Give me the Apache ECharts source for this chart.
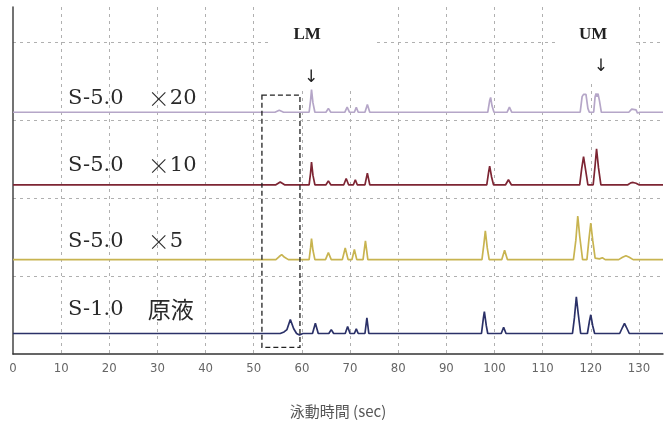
<!DOCTYPE html>
<html><head><meta charset="utf-8">
<script src="https://cdn.jsdelivr.net/npm/echarts@6/dist/echarts.min.js"></script>
<style>html,body{margin:0;padding:0;background:#fff}#c{width:669px;height:424px}</style>
</head><body><div id="c"></div><script>
// ---- data ----
const xMin = 0, xMax = 135, xStep = 10;
const traceMain = ['S-5.0', 'S-5.0', 'S-5.0', 'S-1.0'];
const traceMult = ['×', '×', '×', ''];
const traceSub = ['20', '10', '5', '原液'];
const baselines = [3.10, 2.17, 1.21, 0.263];
// [time (sec), signal above baseline]
const traceX20 = [[0,0],[54.4,0],[55.3,0.025],[56.2,0],[61.5,0],[61.8,0.15],[62.0,0.29],[62.3,0.12],[62.7,0],
  [65.0,0],[65.5,0.05],[66.0,0],[68.9,0],[69.4,0.065],[69.9,0],[70.9,0],[71.3,0.065],[71.7,0],[73.1,0],[73.6,0.1],[74.1,0],
  [98.6,0],[99.0,0.15],[99.2,0.19],[99.5,0.08],[99.9,0],[102.6,0],[103.1,0.065],[103.6,0],
  [117.8,0],[118.2,0.2],[118.5,0.23],[119.0,0.23],[119.4,0.05],[119.7,0],
  [120.6,0],[120.9,0.2],[121.1,0.24],[121.3,0.2],[121.5,0.24],[121.8,0.15],[122.2,0],
  [127.9,0],[128.5,0.04],[128.9,0.05],[129.4,0.03],[129.7,-0.01],[130.2,0],[135,0]];
const traceX10 = [[0,0],[54.6,0],[55.5,0.035],[56.4,0],[61.5,0],[61.8,0.15],[62.0,0.29],[62.3,0.12],[62.7,0],
  [65.0,0],[65.5,0.05],[66.0,0],[68.7,0],[69.2,0.08],[69.7,0],[70.7,0],[71.1,0.065],[71.5,0],[73.1,0],[73.6,0.15],[74.1,0],
  [98.4,0],[98.8,0.17],[99.0,0.24],[99.4,0.1],[99.8,0],[102.3,0],[102.9,0.065],[103.5,0],
  [117.7,0],[118.1,0.2],[118.5,0.36],[118.9,0.2],[119.4,0],
  [120.5,0],[120.9,0.25],[121.2,0.46],[121.6,0.22],[122.1,0],
  [127.7,0],[128.3,0.025],[128.8,0.03],[129.4,0.02],[130.0,0],[135,0]];
const traceX5 = [[0,0],[54.6,0],[55.3,0.04],[55.8,0.065],[56.4,0.03],[57.2,0],[61.5,0],[61.8,0.15],[62.0,0.27],[62.3,0.12],[62.7,0],
  [64.9,0],[65.5,0.09],[66.1,0],[68.4,0],[69.0,0.15],[69.6,0],[70.4,0],[70.9,0.13],[71.4,0],[72.7,0],[73.2,0.24],[73.7,0],
  [86.7,0],[87.1,0.015],[87.5,0],[97.4,0],[97.8,0.2],[98.1,0.37],[98.5,0.15],[98.9,0],[101.5,0],[102.1,0.12],[102.7,0],
  [116.4,0],[116.9,0.25],[117.3,0.56],[117.7,0.3],[118.3,0],[119.2,0],[119.6,0.25],[120.0,0.47],[120.4,0.25],[120.9,0.02],
  [121.8,0.01],[122.4,0.025],[123.0,0],[125.8,0],[126.6,0.03],[127.3,0.05],[128.0,0.03],[128.8,0],[135,0]];
const traceNeat = [[0,0],[55.5,0],[56.3,0.02],[56.9,0.05],[57.6,0.18],[58.3,0.06],[58.9,0],[59.5,-0.02],[60.2,0],
  [62.2,0],[62.8,0.13],[63.4,0],[65.6,0],[66.1,0.05],[66.6,0],[69.0,0],[69.5,0.09],[70.0,0],[70.9,0],[71.3,0.06],[71.7,0],
  [73.1,0],[73.5,0.2],[73.9,0],[97.3,0],[97.7,0.2],[97.9,0.28],[98.3,0.1],[98.6,0],[101.4,0],[101.9,0.08],[102.4,0],
  [116.2,0],[116.6,0.2],[117.0,0.47],[117.4,0.25],[117.9,0],[119.3,0],[119.7,0.15],[120.0,0.24],[120.4,0.1],[120.8,0],
  [126.0,0],[126.6,0.08],[127.0,0.13],[127.4,0.08],[128.0,0],[135,0]];
const traces = [traceX20, traceX10, traceX5, traceNeat];
const markerNames = ['LM', 'UM'];
const markerTextAt = [[61.1, 4.10], [120.5, 4.09]];
const markerArrowAt = [[61.9, 3.55], [122.1, 3.68]];
const markerBox = [[53.4, 3.41, 75.6, 4.45], [113.0, 3.47, 129.4, 4.45]];
const regionBox = [51.7, 0.084, 59.6, 3.32];
const labelAt = [[11.4, 3.28], [11.4, 2.42], [11.4, 1.44], [11.4, 0.57]];
const subLabelX = 28.0;
const colors = ['#b5a6c8', '#7d2533', '#c8b450', '#2b3168'];

const series = traces.map((t, i) => ({
  type: 'line', data: t.map(p => [p[0], p[1] + baselines[i]]),
  showSymbol: false, symbol: 'none', smooth: false, z: 2,
  lineStyle: { color: colors[i], width: 1.7 }, animation: false
}));

const option = {
  animation: false,
  grid: { left: 13, right: 6, top: 7, bottom: 69 },
  xAxis: {
    type: 'value', min: xMin, max: xMax, interval: xStep,
    name: '泳動時間 (sec)', nameLocation: 'middle', nameGap: 50,
    nameTextStyle: { color: '#555', fontSize: 15, fontFamily: 'Noto Sans CJK JP' },
    axisLine: { show: true, lineStyle: { color: '#333', width: 1.5 } },
    axisTick: { show: false },
    axisLabel: { color: '#666', fontSize: 13, margin: 8, showMaxLabel: false,
      fontFamily: "'Liberation Sans Narrow','DejaVu Sans Condensed',sans-serif" },
    splitLine: { show: true, showMinLine: false, showMaxLine: false,
      lineStyle: { color: '#b0b0b0', type: [3, 4], width: 1 } }
  },
  yAxis: {
    type: 'value', min: 0, max: 4.45, interval: 1,
    axisLine: { show: true, lineStyle: { color: '#444', width: 1.5 } },
    axisTick: { show: false }, axisLabel: { show: false },
    splitLine: { show: true, showMinLine: false, showMaxLine: false,
      lineStyle: { color: '#b0b0b0', type: [3, 4], width: 1 } }
  },
  series
};
const chart = echarts.init(document.getElementById('c'));
chart.setOption(option);
const P = (x, y) => chart.convertToPixel({ gridIndex: 0 }, [x, y]);
function rectOf(b, style, z) {
  const a = P(b[0], b[1]), c = P(b[2], b[3]);
  return { type: 'rect', z, shape: { x: Math.min(a[0], c[0]), y: Math.min(a[1], c[1]),
    width: Math.abs(c[0] - a[0]), height: Math.abs(c[1] - a[1]) }, style };
}
const g = [];
markerBox.forEach(b => g.push(rectOf(b, { fill: '#fff', stroke: null }, 1)));
g.push(rectOf(regionBox, { fill: null, stroke: '#222', lineWidth: 1.3, lineDash: [5, 3] }, 3));
markerNames.forEach((n, i) => {
  const p = P(markerTextAt[i][0], markerTextAt[i][1]);
  g.push({ type: 'text', z: 10, x: p[0], y: p[1], style: { text: n, fill: '#222',
    font: 'bold 17px "Liberation Serif"', align: 'center', verticalAlign: 'middle' } });
  const q = P(markerArrowAt[i][0], markerArrowAt[i][1]);
  g.push({ type: 'text', z: 10, x: q[0], y: q[1], style: { text: '↓', fill: '#222',
    font: '17px "DejaVu Sans"', align: 'center', verticalAlign: 'middle' } });
});
labelAt.forEach((l, i) => {
  const p = P(l[0], l[1]);
  const q = P(subLabelX, l[1]);
  g.push({ type: 'text', z: 10, x: p[0], y: p[1], style: { text: traceMain[i], fill: '#2a2a2a',
    font: '21px "DejaVu Serif"', align: 'left', verticalAlign: 'middle' } });
  g.push({ type: 'text', z: 10, x: q[0], y: q[1], style: {
    text: (traceMult[i] ? '{m|' + traceMult[i] + '}' : '') + '{n|' + traceSub[i] + '}',
    rich: {
      m: { fontFamily: 'Noto Sans CJK JP', fontSize: 22, fontWeight: 300, fill: '#2a2a2a', width: 22 },
      n: { fontFamily: i === 3 ? 'Noto Sans CJK JP' : 'DejaVu Serif', fontSize: i === 3 ? 23 : 21, fill: '#2a2a2a' }
    },
    align: 'left', verticalAlign: 'middle' } });
});
chart.setOption({ graphic: { elements: g } });
</script></body></html>
